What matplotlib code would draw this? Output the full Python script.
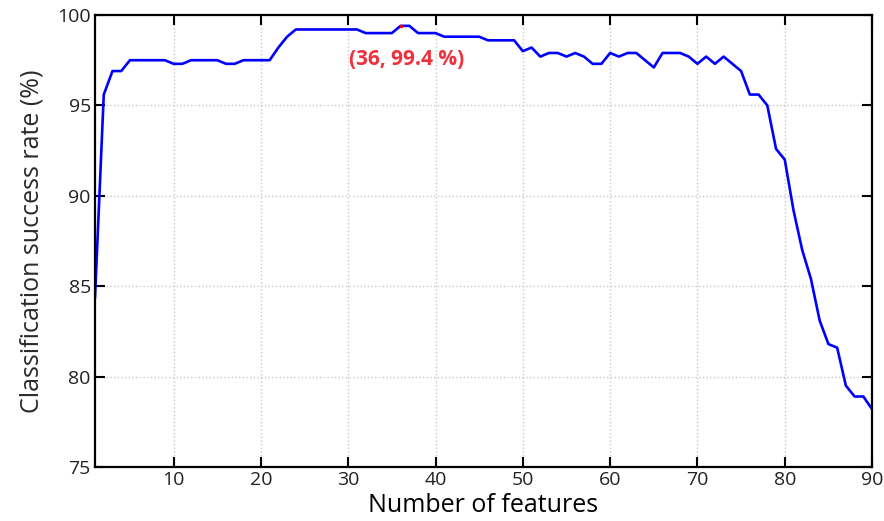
import matplotlib
matplotlib.use("Agg")
import matplotlib.pyplot as plt

# success rate (%) for each number of selected features
n_features = list(range(1, 91))
success_rate = [
    84.4, 95.6, 96.9, 96.9, 97.5, 97.5, 97.5, 97.5, 97.5, 97.3,
    97.3, 97.5, 97.5, 97.5, 97.5, 97.3, 97.3, 97.5, 97.5, 97.5,
    97.5, 98.2, 98.8, 99.2, 99.2, 99.2, 99.2, 99.2, 99.2, 99.2,
    99.2, 99.0, 99.0, 99.0, 99.0, 99.4, 99.4, 99.0, 99.0, 99.0,
    98.8, 98.8, 98.8, 98.8, 98.8, 98.6, 98.6, 98.6, 98.6, 98.0,
    98.2, 97.7, 97.9, 97.9, 97.7, 97.9, 97.7, 97.3, 97.3, 97.9,
    97.7, 97.9, 97.9, 97.5, 97.1, 97.9, 97.9, 97.9, 97.7, 97.3,
    97.7, 97.3, 97.7, 97.3, 96.9, 95.6, 95.6, 95.0, 92.6, 92.0,
    89.2, 87.0, 85.4, 83.1, 81.8, 81.6, 79.5, 78.9, 78.9, 78.2,
]
best_n = 36
best_rate = 99.4

x_ticks = [10, 20, 30, 40, 50, 60, 70, 80, 90]
y_ticks = [75, 80, 85, 90, 95, 100]

plt.rcParams['font.family'] = ['Open Sans', 'DejaVu Sans']

fig = plt.figure(figsize=(8.84, 5.21), dpi=100)
ax = fig.add_axes([0.1075, 0.1036, 0.879, 0.8676])

ax.plot(n_features, success_rate, color='#0000ff', linewidth=1.9)
ax.plot([best_n], [best_rate], marker='.', color='red', markersize=3)
ax.annotate('(%d, %.1f %%)' % (best_n, best_rate), xy=(best_n, best_rate),
            xytext=(4, -28), textcoords='offset points', ha='center',
            color='#f0303a', fontsize=15, fontweight='bold')

ax.set_xlim(1, 90)
ax.set_ylim(75, 100)
ax.set_xticks(x_ticks)
ax.set_yticks(y_ticks)
ax.grid(True, linestyle=':', color='#c8c8c8', linewidth=1.0)
ax.tick_params(direction='in', length=7, width=1.5, top=True, right=True,
               labelsize=14, pad=3, labelcolor='#222222')
for s in ax.spines.values():
    s.set_linewidth(1.6)

ax.set_xlabel('Number of features', fontsize=18, labelpad=3)
ax.set_ylabel('Classification success rate (%)', fontsize=18, labelpad=9,
              color='#2a2a2a')

fig.savefig('out.png', dpi=100)
